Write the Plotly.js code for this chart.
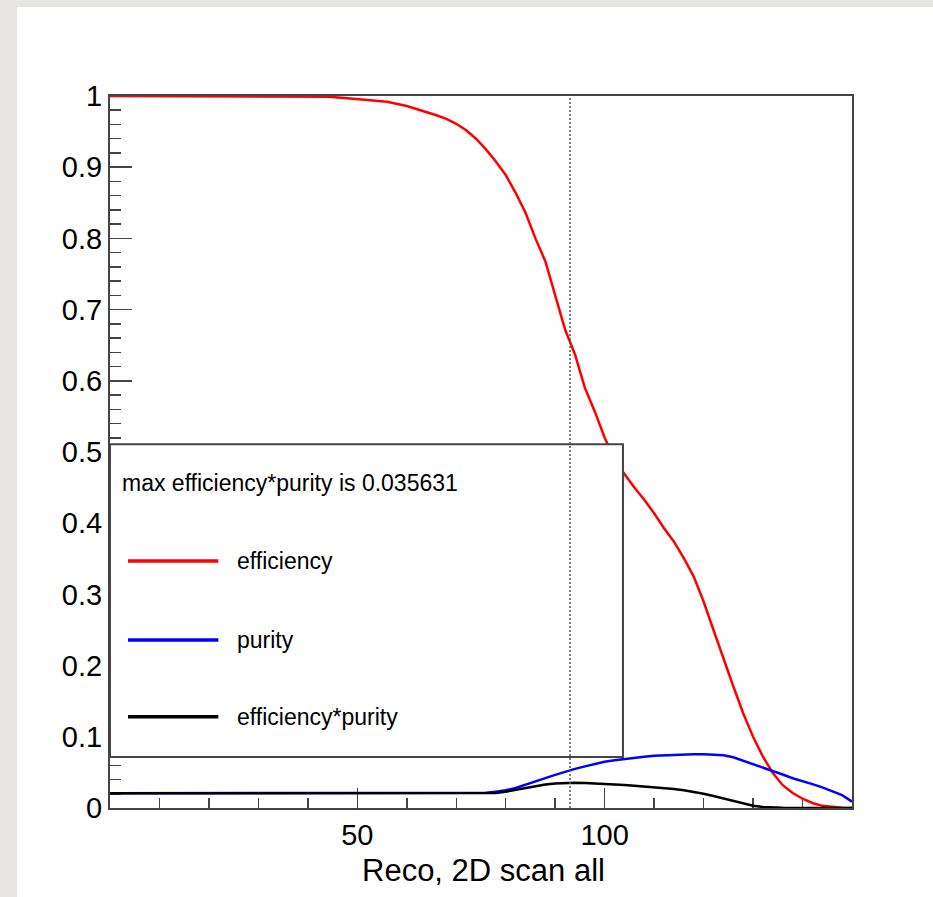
<!DOCTYPE html>
<html>
<head>
<meta charset="utf-8">
<script src="https://cdn.plot.ly/plotly-3.0.1.min.js"></script>
<style>
  html, body { margin: 0; padding: 0; background: #e7e6e3; }
  #chart { width: 933px; height: 897px; }
</style>
</head>
<body>
<div id="chart"></div>
<script>
// ---- data ----
const xVals = [0,10,20,30,40,44,48,52,56,60,62,64,66,68,70,72,74,76,78,80,82,84,86,88,90,92,94,96,98,100,102,104,106,108,110,112,114,116,118,120,122,124,126,128,130,132,134,136,138,140,142,144,146,148,150];

const efficiency = [1,1,1,1,1,0.999,0.997,0.995,0.992,0.986,0.982,0.977,0.973,0.968,0.961,0.952,0.940,0.925,0.908,0.889,0.864,0.836,0.800,0.768,0.720,0.672,0.637,0.590,0.557,0.520,0.490,0.469,0.450,0.433,0.414,0.393,0.374,0.351,0.325,0.290,0.250,0.209,0.171,0.133,0.100,0.072,0.049,0.032,0.021,0.013,0.007,0.003,0.0015,0.0005,0];

const purity = [0.0206,0.0206,0.0206,0.0206,0.0206,0.0206,0.0206,0.0206,0.0206,0.0206,0.0206,0.0206,0.0206,0.0206,0.0206,0.0206,0.0208,0.0215,0.023,0.0248,0.028,0.033,0.0375,0.042,0.0465,0.051,0.055,0.0585,0.062,0.065,0.067,0.069,0.0705,0.072,0.0733,0.074,0.0748,0.0754,0.0755,0.0755,0.0752,0.074,0.0712,0.0665,0.062,0.0568,0.0522,0.047,0.0418,0.038,0.0335,0.029,0.024,0.018,0.009];

const effTimesPurity = [0.0206,0.0206,0.0206,0.0206,0.0206,0.0206,0.0206,0.0206,0.0206,0.0206,0.0206,0.0206,0.0206,0.0206,0.0206,0.0206,0.0206,0.0206,0.0212,0.0228,0.0255,0.0285,0.031,0.0330,0.0344,0.0353,0.0355,0.0350,0.0345,0.0338,0.0330,0.0322,0.0312,0.0303,0.0293,0.0282,0.0268,0.0250,0.0228,0.0200,0.0168,0.0132,0.0095,0.0060,0.0032,0.0014,0.0006,0.0003,0.0001,0,0,0,0,0,0];

const seriesNames = ['efficiency', 'purity', 'efficiency*purity'];
const seriesColors = ['#ff0000', '#0000ff', '#000000'];
const legendHeader = 'max efficiency*purity is 0.035631';
const cutValue = 93;

const xTickVals = [50, 100];
const xTickText = ['50', '100'];
const xMinorTickVals = [10,20,30,40,60,70,80,90,110,120,130,140];
const xTitle = 'Reco, 2D scan all';

// ---- drawing ----
const FONT = 'Liberation Sans, Arial, Helvetica, sans-serif';
const AXC = '#444';
const TXT = '#000';

const ySeries = [efficiency, purity, effTimesPurity];
const traces = ySeries.map((ys, i) => ({
  type: 'scatter', mode: 'lines',
  x: xVals, y: ys, name: seriesNames[i],
  line: { color: seriesColors[i], width: 2.5 },
  hoverinfo: 'skip'
}));

// legend geometry (data coords of the box drawn over the plot)
const LG = { x0: 0, x1: 103.7, y0: 0.0716, y1: 0.511,
             lineX0: 3.64, lineX1: 21.9, textX: 25.3, headX: 2.1, headY: 0.457,
             rows: [0.347, 0.236, 0.128] };

const shapes = [
  // white "paper" of the screenshot
  { type: 'rect', xref: 'paper', yref: 'paper', x0: -0.1253, x1: 1.3, y0: -0.3, y1: 1.125,
    fillcolor: '#ffffff', line: { width: 0 }, layer: 'below' },
  // legend box
  { type: 'rect', xref: 'x', yref: 'y', x0: LG.x0, x1: LG.x1, y0: LG.y0, y1: LG.y1,
    fillcolor: '#ffffff', line: { color: '#444', width: 2 }, layer: 'above' }
];
seriesNames.forEach((n, i) => {
  shapes.push({ type: 'line', xref: 'x', yref: 'y', x0: LG.lineX0, x1: LG.lineX1,
    y0: LG.rows[i], y1: LG.rows[i], line: { color: seriesColors[i], width: 3.5 }, layer: 'above' });
});
// dotted cut line
shapes.push({ type: 'line', xref: 'x', yref: 'y', x0: cutValue, x1: cutValue, y0: 0, y1: 1,
  line: { color: '#555', width: 1.5, dash: '2px,2px' }, layer: 'above' });

const annotations = [
  { xref: 'x', yref: 'y', x: LG.headX, y: LG.headY, text: legendHeader, showarrow: false,
    xanchor: 'left', yanchor: 'middle', font: { family: FONT, size: 23, color: TXT } },
  // x-axis title
  { xref: 'paper', yref: 'paper', x: 0.503, y: -0.0872, text: xTitle, showarrow: false,
    xanchor: 'center', yanchor: 'middle', borderpad: 0, font: { family: FONT, size: 31, color: TXT } }
];
seriesNames.forEach((n, i) => {
  annotations.push({ xref: 'x', yref: 'y', x: LG.textX, y: LG.rows[i], text: n, showarrow: false,
    xanchor: 'left', yanchor: 'middle', font: { family: FONT, size: 23, color: TXT } });
});

const layout = {
  width: 933, height: 897,
  margin: { l: 110, r: 81, t: 96, b: 89, pad: 0 },
  paper_bgcolor: '#e7e6e3',
  plot_bgcolor: '#ffffff',
  showlegend: false,
  font: { family: FONT, color: TXT },
  xaxis: {
    range: [0, 150], tickmode: 'array', tickvals: xTickVals, ticktext: xTickText,
    ticks: 'inside', ticklen: 20, tickwidth: 1.5, tickcolor: AXC,
    minor: { tickmode: 'array', tickvals: xMinorTickVals, ticks: 'inside', ticklen: 10, tickwidth: 1.5, tickcolor: AXC },
    showline: true, mirror: true, linecolor: AXC, linewidth: 2,
    showgrid: false, zeroline: false, layer: 'below traces',
    tickfont: { family: FONT, size: 29, color: TXT },
    ticklabelstandoff: 0
  },
  yaxis: {
    range: [0, 1], tickmode: 'linear', tick0: 0, dtick: 0.1,
    ticks: 'inside', ticklen: 22, tickwidth: 1.5, tickcolor: AXC,
    minor: { dtick: 0.02, ticks: 'inside', ticklen: 11, tickwidth: 1.5, tickcolor: AXC },
    showline: true, mirror: true, linecolor: AXC, linewidth: 2,
    showgrid: false, zeroline: false, layer: 'below traces',
    tickfont: { family: FONT, size: 29, color: TXT },
    ticklabelstandoff: 0
  },
  shapes: shapes,
  annotations: annotations
};

Plotly.newPlot('chart', traces, layout, { staticPlot: true, displayModeBar: false });
</script>
</body>
</html>
